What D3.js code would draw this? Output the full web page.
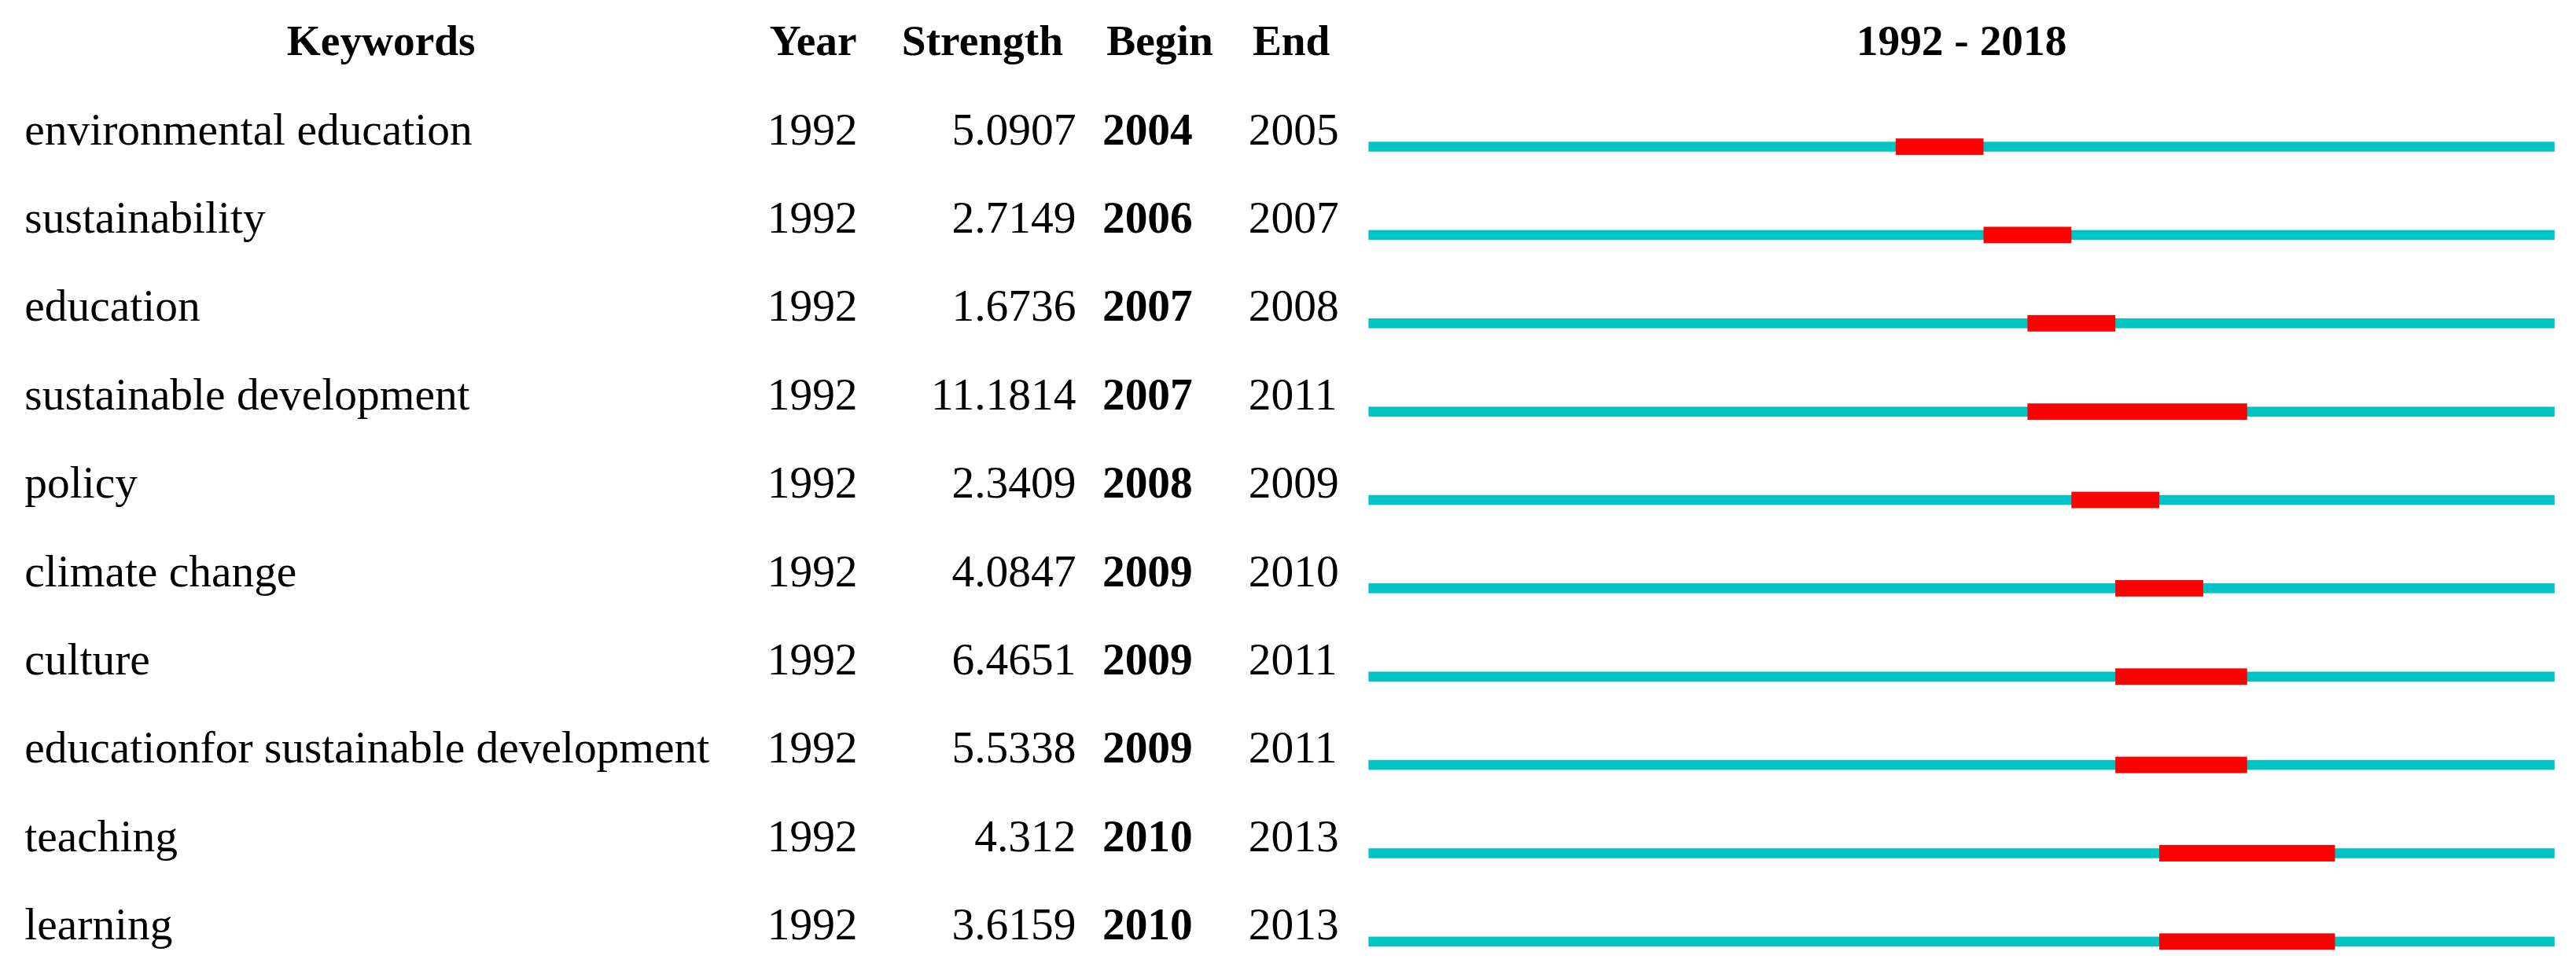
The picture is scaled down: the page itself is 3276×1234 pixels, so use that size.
<!DOCTYPE html>
<html>
<head>
<meta charset="utf-8">
<script src="https://cdn.jsdelivr.net/npm/d3@7"></script>
<style>
  html, body { margin: 0; padding: 0; background: #fff; }
  svg { display: block; font-family: "Liberation Serif", "DejaVu Serif", serif; }
</style>
</head>
<body>
<div id="chart"></div>
<script>
const keywords = [
  "environmental education", "sustainability", "education", "sustainable development",
  "policy", "climate change", "culture", "educationfor sustainable development",
  "teaching", "learning"
];
const years = [1992, 1992, 1992, 1992, 1992, 1992, 1992, 1992, 1992, 1992];
const strengths = ["5.0907", "2.7149", "1.6736", "11.1814", "2.3409", "4.0847", "6.4651", "5.5338", "4.312", "3.6159"];
const begins = [2004, 2006, 2007, 2007, 2008, 2009, 2009, 2009, 2010, 2010];
const ends = [2005, 2007, 2008, 2011, 2009, 2010, 2011, 2011, 2013, 2013];
const startYear = 1992, endYear = 2018;

const W = 1568, H = 590;
const svg = d3.select("#chart").append("svg")
  .attr("width", 3276).attr("height", 1234)
  .attr("viewBox", [0, 0, W, H]);

const rows = d3.range(keywords.length);
const y = d3.scalePoint().domain(rows).range([78, 562]);
const x = d3.scaleLinear().domain([startYear, endYear + 1]).range([833, 1555]);
const fs = 27.5;

// header
const header = [
  { t: "Keywords", x: 232 },
  { t: "Year", x: 495 },
  { t: "Strength", x: 598 },
  { t: "Begin", x: 706 },
  { t: "End", x: 786 },
  { t: `${startYear} - ${endYear}`, x: (x.range()[0] + x.range()[1]) / 2 }
];
svg.selectAll("text.head").data(header).join("text")
  .attr("class", "head")
  .attr("x", d => d.x).attr("y", 24)
  .attr("dy", "0.35em")
  .attr("text-anchor", "middle")
  .attr("font-weight", "bold")
  .attr("font-size", fs - 1)
  .text(d => d.t);

const row = svg.selectAll("g.row").data(rows).join("g")
  .attr("class", "row")
  .attr("transform", i => `translate(0,${y(i)})`);

const cell = (sel, xPos, anchor, fn, bold) => sel.append("text")
  .attr("x", xPos).attr("dy", "0.35em")
  .attr("text-anchor", anchor)
  .attr("font-size", fs)
  .attr("font-weight", bold ? "bold" : null)
  .text(fn);

cell(row, 15, "start", i => keywords[i]);
cell(row, 467, "start", i => years[i]);
cell(row, 655, "end", i => strengths[i]);
cell(row, 671, "start", i => begins[i], true);
cell(row, 760, "start", i => ends[i]);

row.append("rect")
  .attr("x", x(startYear)).attr("y", 8)
  .attr("width", x(endYear + 1) - x(startYear)).attr("height", 6)
  .attr("fill", "#00c4c4");

row.append("rect")
  .attr("x", i => x(begins[i])).attr("y", 6)
  .attr("width", i => x(ends[i] + 1) - x(begins[i])).attr("height", 10)
  .attr("fill", "#ff0000");
</script>
</body>
</html>
